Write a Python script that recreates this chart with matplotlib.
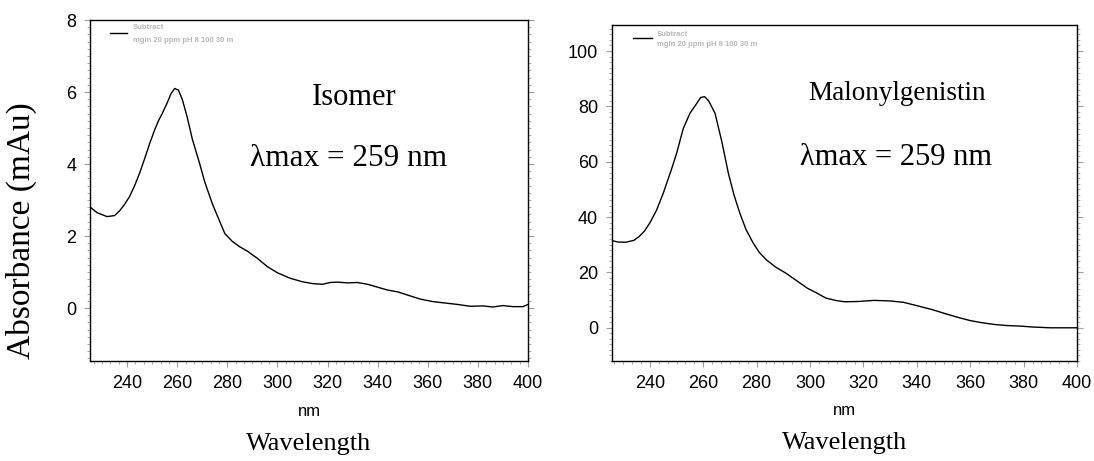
import matplotlib
matplotlib.use("Agg")
import matplotlib.pyplot as plt
from matplotlib.ticker import MultipleLocator

# Isomer spectrum
iso_nm = [225, 228, 232, 235, 237, 239, 241, 243, 245, 247, 249, 251, 252.5, 254, 256, 257.5,
          259, 260.5, 262, 264, 266, 269, 271, 274, 277, 279, 282, 285, 288, 292, 296, 300,
          305, 310, 314, 318, 321, 324, 328, 332, 336, 340, 344, 348, 352, 357, 362, 367,
          372, 377, 382, 386, 390, 394, 398, 400]
iso_abs = [2.82, 2.65, 2.54, 2.57, 2.70, 2.88, 3.10, 3.40, 3.75, 4.15, 4.57, 4.95, 5.20, 5.40,
           5.70, 5.95, 6.10, 6.05, 5.80, 5.30, 4.70, 4.00, 3.50, 2.90, 2.40, 2.07, 1.85, 1.70,
           1.58, 1.38, 1.15, 0.98, 0.83, 0.73, 0.68, 0.66, 0.71, 0.72, 0.70, 0.71, 0.66, 0.58,
           0.50, 0.45, 0.36, 0.25, 0.18, 0.14, 0.10, 0.05, 0.06, 0.03, 0.07, 0.04, 0.04, 0.10]

# Malonylgenistin spectrum
mal_nm = [225.8, 228, 231, 234, 236, 238, 240, 242.5, 245, 248, 250, 252.5, 255, 257.5, 259,
          260.5, 262, 264.4, 267, 269.4, 271.5, 273.7, 276, 278.7, 281, 283.7, 287, 291, 295,
          299, 303, 306, 310, 313, 318, 324, 330, 335, 340, 346, 351, 356, 360, 364, 369, 374,
          379, 383, 390, 400]
mal_abs = [31.5, 31.0, 30.9, 31.6, 33.0, 35.0, 37.9, 42.5, 48.6, 57.0, 63.0, 72.0, 77.5, 81.0,
           83.2, 83.5, 82.0, 77.5, 67.0, 55.8, 48.0, 41.4, 35.5, 30.6, 27.2, 24.5, 22.0, 19.7,
           17.0, 14.3, 12.3, 10.7, 9.8, 9.4, 9.5, 9.9, 9.7, 9.2, 8.0, 6.5, 5.0, 3.6, 2.6, 1.9,
           1.2, 0.8, 0.6, 0.3, 0.0, 0.0]

x_ticks = [240, 260, 280, 300, 320, 340, 360, 380, 400]
iso_yticks = [0, 2, 4, 6, 8]
mal_yticks = [0, 20, 40, 60, 80, 100]

serif = "Liberation Serif"
sans = "Liberation Sans"
grey = "#a0a0a0"

fig = plt.figure(figsize=(10.94, 4.61), dpi=100)
ax1 = fig.add_axes([0.0823, 0.2169, 0.4003, 0.7397])
ax2 = fig.add_axes([0.5594, 0.2169, 0.4251, 0.7289])


def style(ax, ylim, yticks, ymin):
    ax.set_xlim(225.2, 400)
    ax.set_ylim(*ylim)
    ax.set_xticks(x_ticks)
    ax.set_xticklabels([str(t) for t in x_ticks], fontfamily=sans, fontsize=13)
    ax.set_yticks(yticks)
    ax.set_yticklabels([str(t) for t in yticks], fontfamily=sans, fontsize=13)
    ax.xaxis.set_minor_locator(MultipleLocator(20 / 6))
    ax.yaxis.set_minor_locator(MultipleLocator(ymin))
    ax.tick_params(which="major", direction="out", length=4, width=0.8, color=grey,
                   right=True, pad=6)
    ax.tick_params(which="minor", direction="out", length=2.5, width=0.6, color=grey,
                   right=True)
    for s in ax.spines.values():
        s.set_linewidth(1.0)
    ax.text(0.5, -0.125, "nm", transform=ax.transAxes, ha="center", va="top",
            fontfamily=sans, fontsize=12)
    ax.text(0.5, -0.21, "Wavelength", transform=ax.transAxes, ha="center", va="top",
            fontfamily=serif, fontsize=19)


ax1.plot(iso_nm, iso_abs, color="black", lw=1.0)
style(ax1, (-1.47, 8), iso_yticks, 0.2)
ax2.plot(mal_nm, mal_abs, color="black", lw=1.0)
style(ax2, (-12, 109.4), mal_yticks, 2)
ax2.set_xlim(225.8, 400)

# legends in the style of the instrument software
for ax, yl, yt1, yt2 in [(ax1, 0.962, 0.977, 0.941), (ax2, 0.961, 0.973, 0.943)]:
    ax.plot([0.045, 0.085], [yl, yl], transform=ax.transAxes, color="black", lw=1.0)
    ax.text(0.097, yt1, "Subtract", transform=ax.transAxes, va="center",
            fontfamily=sans, fontsize=5.5, fontweight="bold", color="#b8b8b8")
    ax.text(0.097, yt2, "mgin 20 ppm pH 8 100 30 m", transform=ax.transAxes, va="center",
            fontfamily=sans, fontsize=5.5, fontweight="bold", color="#b8b8b8")

ax1.text(0.507, 0.774, "Isomer", transform=ax1.transAxes, va="center",
         fontfamily=serif, fontsize=22)
ax1.text(0.365, 0.595, "λmax = 259 nm", transform=ax1.transAxes, va="center",
         fontfamily=serif, fontsize=22.5)
ax2.text(0.4215, 0.795, "Malonylgenistin", transform=ax2.transAxes, va="center",
         fontfamily=serif, fontsize=19.5)
ax2.text(0.404, 0.607, "λmax = 259 nm", transform=ax2.transAxes, va="center",
         fontfamily=serif, fontsize=22)

fig.text(0.020, 0.50, "Absorbance (mAu)", rotation=90, ha="center", va="center",
         fontfamily=serif, fontsize=24)

fig.savefig("out.png", dpi=100)
